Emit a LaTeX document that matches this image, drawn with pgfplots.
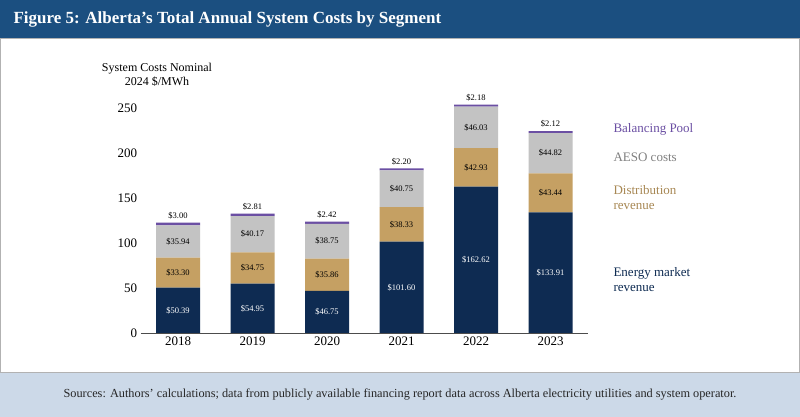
\documentclass[border=0pt]{standalone}
\usepackage{pgfplots}
\pgfplotsset{compat=1.18}
\usepackage{fontspec}
\setmainfont{Liberation Serif}
\definecolor{navy}{HTML}{0E2B52}
\definecolor{gold}{HTML}{C5A063}
\definecolor{lgray}{HTML}{C3C3C3}
\definecolor{purp}{HTML}{6B4FA3}
\definecolor{titleblue}{HTML}{1B4F80}
\definecolor{srcbg}{HTML}{CCD9E8}
\begin{document}
\begin{tikzpicture}[x=1pt,y=1pt]
\fill[white] (0,0) rectangle (800,417);
\fill[titleblue] (0,379) rectangle (800,417);
\node[anchor=west,text=white,font=\fontsize{17}{20}\selectfont\bfseries] at (10,398) {Figure 5: Alberta’s Total Annual System Costs by Segment};
\fill[srcbg] (0,0) rectangle (800,45);
\draw[gray!60] (0.5,45) rectangle (799.5,379);
\node[font=\fontsize{12.3}{14}\selectfont,text=black!85] at (400,23) {Sources: Authors’ calculations; data from publicly available financing report data across Alberta electricity utilities and system operator.};
\node[align=center,font=\fontsize{12}{14}\selectfont] at (157,342) {System Costs Nominal\\2024 \$/MWh};
\node[anchor=west,text=purp,font=\fontsize{13}{15}\selectfont] at (610,288) {Balancing Pool};
\node[anchor=west,text=gray,font=\fontsize{13}{15}\selectfont] at (610,260) {AESO costs};
\node[anchor=west,align=left,text=gold!85!black,font=\fontsize{13}{15}\selectfont] at (610,219) {Distribution\\revenue};
\node[anchor=west,align=left,text=navy,font=\fontsize{13}{15}\selectfont] at (610,137) {Energy market\\revenue};
\begin{axis}[at={(178pt,84pt)},anchor=origin,
  width=447pt,height=234pt,scale only axis,
  ybar stacked,bar width=44pt,
  xmin=-0.5,xmax=5.5,ymin=0,ymax=260,
  xtick={0,...,5},xticklabels={2018,2019,2020,2021,2022,2023},
  ytick=\empty,
  axis y line=none, axis x line*=bottom,
  x axis line style={black!70},
  xtick style={draw=none},
  ticklabel style={font=\fontsize{13}{15}\selectfont},
  /pgf/number format/assume math mode=true,
  clip=false]
\addplot[fill=navy,draw=none] coordinates {(0,50.39)(1,54.95)(2,46.75)(3,101.60)(4,162.62)(5,133.91)};
\addplot[fill=gold,draw=none] coordinates {(0,33.30)(1,34.75)(2,35.86)(3,38.33)(4,42.93)(5,43.44)};
\addplot[fill=lgray,draw=none] coordinates {(0,35.94)(1,40.17)(2,38.75)(3,40.75)(4,46.03)(5,44.82)};
\addplot[fill=purp,draw=none] coordinates {(0,3.00)(1,2.81)(2,2.42)(3,2.20)(4,2.18)(5,2.12)};
\foreach \yy in {0,50,100,150,200,250}{
  \edef\tmp{\noexpand\node[anchor=east,font=\noexpand\fontsize{13}{15}\noexpand\selectfont] at (axis cs:-0.5,\yy) {\yy};}\tmp}
\def\lab#1#2#3#4#5{%
 \coordinate (e#1) at (axis cs:#1,#2/2);
 \coordinate (d#1) at (axis cs:#1,#2+#3/2);
 \coordinate (a#1) at (axis cs:#1,#2+#3+#4/2);
 \node[font=\fontsize{8.5}{10}\selectfont,anchor=south] at (axis cs:#1,#2+#3+#4+#5) {\$#5};}
\lab{0}{50.39}{33.30}{35.94}{3.00}
\lab{1}{54.95}{34.75}{40.17}{2.81}
\lab{2}{46.75}{35.86}{38.75}{2.42}
\lab{3}{101.60}{38.33}{40.75}{2.20}
\lab{4}{162.62}{42.93}{46.03}{2.18}
\lab{5}{133.91}{43.44}{44.82}{2.12}
\end{axis}
\foreach \i/\e/\d/\a in {0/50.39/33.30/35.94,1/54.95/34.75/40.17,2/46.75/35.86/38.75,3/101.60/38.33/40.75,4/162.62/42.93/46.03,5/133.91/43.44/44.82}{
 \node[text=white,font=\fontsize{8.5}{10}\selectfont] at (e\i) {\$\e};
 \node[font=\fontsize{8.5}{10}\selectfont] at (d\i) {\$\d};
 \node[font=\fontsize{8.5}{10}\selectfont] at (a\i) {\$\a};
}
\end{tikzpicture}
\end{document}
